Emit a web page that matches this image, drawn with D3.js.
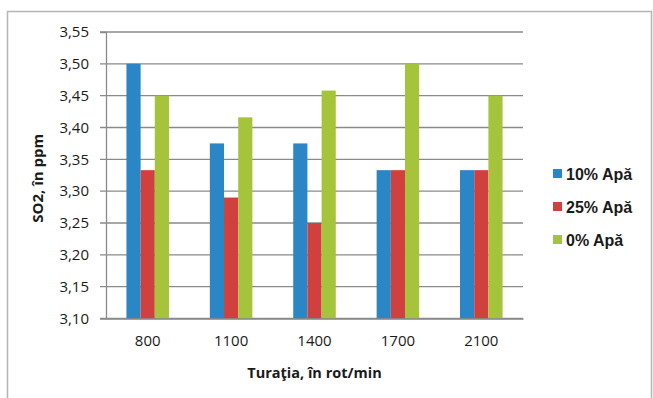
<!DOCTYPE html>
<html>
<head>
<meta charset="utf-8">
<script src="https://cdn.jsdelivr.net/npm/d3@7"></script>
<style>
  body { margin: 0; background: #fff; }
  .tick text { font-family: "Open Sans", sans-serif; font-size: 15px; fill: #1a1a1a; }
</style>
</head>
<body>
<div id="chart"></div>
<script>
// data
const categories = ['800', '1100', '1400', '1700', '2100'];
const seriesNames = ['10% Apă', '25% Apă', '0% Apă'];
const seriesColors = ['#2a86c4', '#d0403f', '#a6c43b'];
const apa10 = [3.50, 3.375, 3.375, 3.333, 3.333];
const apa25 = [3.333, 3.29, 3.25, 3.333, 3.333];
const apa0 = [3.45, 3.416, 3.458, 3.50, 3.45];
const yTicks = [3.10, 3.15, 3.20, 3.25, 3.30, 3.35, 3.40, 3.45, 3.50, 3.55];

function chart() {
    const W = 653, H = 398;
    const margin = {top: 32, right: 130, bottom: 79.5, left: 106};
    const width = W - margin.left - margin.right;
    const height = H - margin.top - margin.bottom;

    const root = d3.select('#chart').append('svg')
        .attr('width', W)
        .attr('height', H);

    // frame (left + top edges are visible in the scan)
    root.append('path')
        .attr('d', `M7.5,398 V11.5 H651.5 V398`)
        .attr('fill', 'none')
        .attr('stroke', '#b5b5b5')
        .attr('stroke-width', 1.5);

    const svg = root.append('g')
        .attr('transform', `translate(${margin.left}, ${margin.top})`);

    const series = [apa10, apa25, apa0];

    const x = d3.scaleBand()
        .domain(categories)
        .range([0, width])
        .paddingInner(0.49)
        .paddingOuter(0.245);

    const x1 = d3.scaleBand()
        .domain(d3.range(series.length))
        .range([0, x.bandwidth()]);

    const y = d3.scaleLinear()
        .domain([3.10, 3.55])
        .range([height, 0]);

    // grid
    svg.append('g')
        .selectAll('line')
        .data(yTicks)
        .join('line')
        .attr('x1', -6)
        .attr('x2', width)
        .attr('y1', d => y(d))
        .attr('y2', d => y(d))
        .attr('stroke', '#8a8a8a')
        .attr('stroke-width', 1.3);

    // y axis
    const yAxis = svg.append('g')
        .call(d3.axisLeft(y).tickValues(yTicks).tickSize(6)
            .tickFormat(d => d3.format('.2f')(d).replace('.', ',')));
    yAxis.select('.domain').attr('stroke', '#8a8a8a').attr('stroke-width', 1.3);
    yAxis.selectAll('.tick line').remove();
    yAxis.selectAll('.tick text').attr('x', -17);

    // bars
    svg.append('g')
        .selectAll('g')
        .data(series)
        .join('g')
        .attr('fill', (d, i) => seriesColors[i])
        .selectAll('rect')
        .data((vals, si) => vals.map((v, ci) => ({v, ci, si})))
        .join('rect')
        .attr('x', d => x(categories[d.ci]) + x1(d.si))
        .attr('width', x1.bandwidth())
        .attr('y', d => y(d.v))
        .attr('height', d => height - y(d.v));

    // x axis (labels only)
    const xAxis = svg.append('g')
        .attr('transform', `translate(0, ${height})`)
        .call(d3.axisBottom(x).tickSize(0).tickPadding(17));
    xAxis.select('.domain').attr('stroke', '#8a8a8a').attr('stroke-width', 1.3);

    // axis titles
    svg.append('text')
        .attr('x', width / 2)
        .attr('y', height + 59)
        .attr('text-anchor', 'middle')
        .style('font-family', '"Open Sans", sans-serif')
        .style('font-weight', 'bold')
        .style('font-size', '14.5px')
        .attr('fill', '#1a1a1a')
        .text('Turaţia, în rot/min');

    svg.append('text')
        .attr('transform', `translate(-63, ${height / 2 + 3}) rotate(-90)`)
        .attr('text-anchor', 'middle')
        .style('font-family', '"Open Sans", sans-serif')
        .style('font-weight', 'bold')
        .style('font-size', '15px')
        .attr('fill', '#1a1a1a')
        .text('SO2, în ppm');

    // legend
    const legend = root.append('g')
        .attr('transform', 'translate(553, 174)');
    const items = legend.selectAll('g')
        .data(seriesNames)
        .join('g')
        .attr('transform', (d, i) => `translate(0, ${i * 33})`);
    items.append('rect')
        .attr('x', 0)
        .attr('y', -5)
        .attr('width', 9)
        .attr('height', 9)
        .attr('fill', (d, i) => seriesColors[i]);
    items.append('text')
        .attr('x', 13)
        .attr('y', 0)
        .attr('dy', '0.36em')
        .style('font-family', '"Liberation Sans", Arial, sans-serif')
        .style('font-weight', 'bold')
        .style('font-size', '16px')
        .attr('fill', '#1a1a1a')
        .text(d => d);
}

chart();
</script>
</body>
</html>
